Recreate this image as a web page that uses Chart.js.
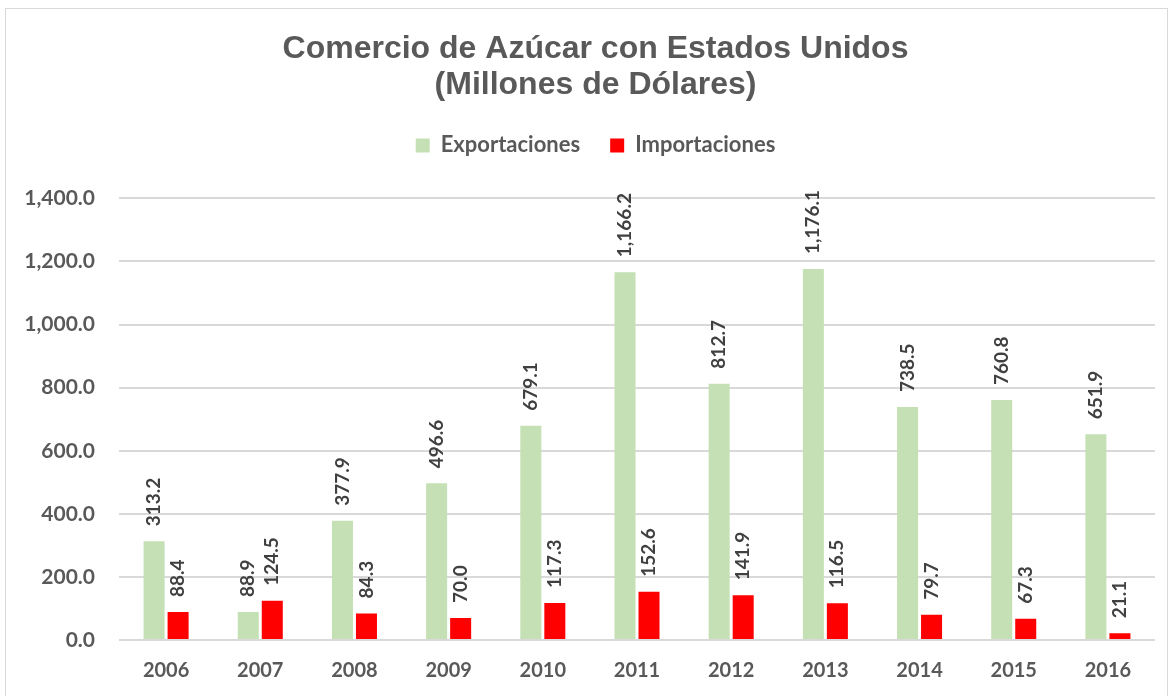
<!DOCTYPE html>
<html>
<head>
<meta charset="utf-8">
<title>Comercio de Azúcar con Estados Unidos</title>
<script src="https://cdn.jsdelivr.net/npm/chart.js@4"></script>
<style>
  html, body { margin: 0; padding: 0; background: #ffffff; }
  canvas { display: block; }
</style>
</head>
<body>
<canvas id="sugarChart" width="1171" height="696"></canvas>
<script>
// ---------------------------------------------------------------------------
// Data
// ---------------------------------------------------------------------------
const years = ['2006', '2007', '2008', '2009', '2010', '2011', '2012', '2013', '2014', '2015', '2016'];
const exportaciones = [313.2, 88.9, 377.9, 496.6, 679.1, 1166.2, 812.7, 1176.1, 738.5, 760.8, 651.9];
const importaciones = [88.4, 124.5, 84.3, 70.0, 117.3, 152.6, 141.9, 116.5, 79.7, 67.3, 21.1];
const seriesNames = ['Exportaciones', 'Importaciones'];

// ---------------------------------------------------------------------------
// Helpers
// ---------------------------------------------------------------------------
function formatNumber(value) {
    return Number(value).toLocaleString('en-US', { minimumFractionDigits: 1, maximumFractionDigits: 1 });
}

// Fondo blanco + borde gris del área del gráfico
const frame = {
    id: 'frame',
    beforeDraw(chart) {
        const ctx = chart.ctx;
        ctx.save();
        ctx.fillStyle = '#ffffff';
        ctx.fillRect(0, 0, chart.width, chart.height);
        ctx.strokeStyle = '#d9d9d9';
        ctx.lineWidth = 1;
        ctx.strokeRect(5.5, 8.5, 1162, 700);
        ctx.restore();
    }
};

// Espacio extra debajo de la leyenda y título/leyenda un poco a la derecha
const headerLayout = {
    id: 'headerLayout',
    beforeInit(chart) {
        const originalFit = chart.legend.fit;
        chart.legend.fit = function () {
            originalFit.bind(chart.legend)();
            this.height += 32;
        };
    },
    afterLayout(chart) {
        [chart.titleBlock, chart.legend].forEach(box => {
            if (box) box.left += 26;
        });
    }
};

// Etiquetas de valor verticales encima de cada barra
const valueLabels = {
    id: 'valueLabels',
    afterDatasetsDraw(chart) {
        const ctx = chart.ctx;
        ctx.save();
        ctx.font = 'bold 19px Lato';
        ctx.fillStyle = '#404040';
        ctx.textAlign = 'left';
        ctx.textBaseline = 'middle';
        chart.data.datasets.forEach((ds, i) => {
            chart.getDatasetMeta(i).data.forEach((bar, j) => {
                ctx.save();
                ctx.translate(bar.x, bar.y - 15);
                ctx.rotate(-Math.PI / 2);
                ctx.fillText(formatNumber(ds.data[j]), 0, 0);
                ctx.restore();
            });
        });
        ctx.restore();
    }
};

// ---------------------------------------------------------------------------
// Chart
// ---------------------------------------------------------------------------
Chart.defaults.font.family = 'Lato';
Chart.defaults.font.weight = 'bold';
Chart.defaults.color = '#595959';

new Chart(document.getElementById('sugarChart').getContext('2d'), {
    type: 'bar',
    data: {
        labels: years,
        datasets: [
            {
                label: seriesNames[0],
                data: exportaciones,
                backgroundColor: '#c5e0b4',
                categoryPercentage: 0.51,
                barPercentage: 0.875
            },
            {
                label: seriesNames[1],
                data: importaciones,
                backgroundColor: '#ff0000',
                categoryPercentage: 0.51,
                barPercentage: 0.875
            }
        ]
    },
    options: {
        responsive: false,
        devicePixelRatio: 1,
        animation: false,
        layout: {
            padding: { top: 0, left: 10, right: 16, bottom: 0 }
        },
        plugins: {
            title: {
                display: true,
                text: ['Comercio de Azúcar con Estados Unidos', '(Millones de Dólares)'],
                color: '#595959',
                font: { family: 'Liberation Sans', size: 32, weight: 'bold', lineHeight: 1.1 },
                padding: { top: 32, bottom: 2 }
            },
            legend: {
                position: 'top',
                labels: {
                    boxWidth: 14,
                    boxHeight: 14,
                    padding: 30,
                    color: '#595959',
                    font: { size: 22, weight: 'bold' }
                }
            },
            tooltip: { enabled: false }
        },
        scales: {
            x: {
                afterFit(scale) { scale.height = 56; },
                grid: { display: false, drawTicks: false },
                border: { display: false },
                ticks: {
                    padding: 19,
                    color: '#595959',
                    font: { size: 20, weight: 'bold' }
                }
            },
            y: {
                min: 0,
                max: 1400,
                afterFit(scale) { scale.width = 109; },
                grid: { color: '#d9d9d9', lineWidth: 2, drawTicks: false },
                border: { display: false },
                ticks: {
                    stepSize: 200,
                    padding: 24,
                    color: '#595959',
                    font: { size: 21, weight: 'bold' },
                    callback: value => formatNumber(value)
                }
            }
        }
    },
    plugins: [frame, headerLayout, valueLabels]
});
</script>
</body>
</html>
